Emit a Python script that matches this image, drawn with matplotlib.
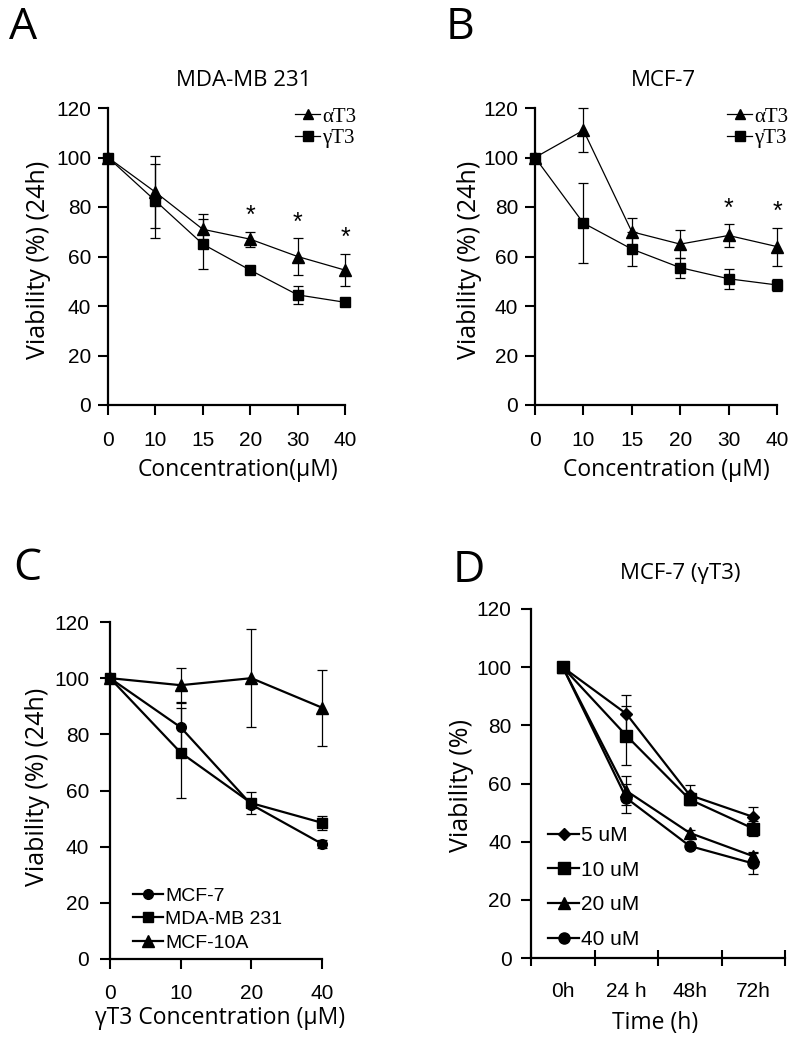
import matplotlib
matplotlib.use("Agg")
import matplotlib.pyplot as plt

W, H = 796, 1043

# Panel A: MDA-MB 231, 24 h
conc_ab = ['0', '10', '15', '20', '30', '40']
a_alpha = [100, 86, 71, 67, 60, 54.5]
a_alpha_err = [0, 14.6, 6, 3, 7.3, 6.6]
a_gamma = [100, 82.5, 65, 54.5, 44.5, 41.5]
a_gamma_err = [0, 15, 10, 1, 3.5, 1]
a_star = [3, 4, 5]

# Panel B: MCF-7, 24 h
b_alpha = [100, 111, 70, 65, 68.5, 64]
b_alpha_err = [0, 8.8, 5.5, 5.8, 4.5, 7.7]
b_gamma = [100, 73.5, 63, 55.5, 51, 48.5]
b_gamma_err = [0, 16, 6.8, 4, 4, 2.5]
b_star = [4, 5]

# Panel C: gamma-T3 on three cell lines
conc_c = ['0', '10', '20', '40']
c_mcf7 = [100, 82.5, 55, 41]
c_mcf7_err = [0, 8.5, 1, 1.5]
c_mda = [100, 73.5, 55.5, 48.5]
c_mda_err = [0, 16, 4, 2.5]
c_10a = [100, 97.5, 100, 89.5]
c_10a_err = [0, 6, 17.5, 13.5]

# Panel D: MCF-7 time course
time_d = ['0h', '24 h', '48h', '72h']
d_5 = [100, 84, 56, 48.5]
d_5_err = [0, 6.5, 3.5, 3.5]
d_10 = [100, 76.5, 54.5, 44.5]
d_10_err = [0, 10, 2, 2.5]
d_20 = [100, 57.5, 43, 35]
d_20_err = [0, 5, 1, 1.5]
d_40 = [100, 55, 38.5, 32.5]
d_40_err = [0, 5, 1, 3.5]

SANS = ['Liberation Sans', 'DejaVu Sans']
LABEL = ['Open Sans', 'DejaVu Sans']
SERIF = ['Liberation Serif', 'DejaVu Serif']
TICK = 15

fig = plt.figure(figsize=(W / 100, H / 100), dpi=100)


def box(l, r, b, t):
    # pixel box -> figure fraction
    return [l / W, 1 - b / H, (r - l) / W, (b - t) / H]


def ftext(x, y, s, **kw):
    kw.setdefault('family', LABEL)
    fig.text(x / W, 1 - y / H, s, ha='center', va='center', **kw)


def style_axes(ax, lw=1.6):
    for s in ['top', 'right']:
        ax.spines[s].set_visible(False)
    for s in ['left', 'bottom']:
        ax.spines[s].set_linewidth(lw)
    ax.set_ylim(0, 120)
    ax.set_yticks(range(0, 121, 20))
    for lab in ax.get_xticklabels() + ax.get_yticklabels():
        lab.set_family(SANS)


def series(ax, y, err, marker, ms, lw):
    x = list(range(len(y)))
    c = ax.errorbar(x, y, yerr=err, fmt='-', marker=marker, ms=ms, color='black',
                    lw=lw, elinewidth=0.9, capsize=3.5, capthick=0.9, clip_on=False,
                    zorder=3)
    return c[0]


# ---- A and B ----
for l, r, alpha, aerr, gamma, gerr, stars in [
        (108, 345, a_alpha, a_alpha_err, a_gamma, a_gamma_err, a_star),
        (535, 777, b_alpha, b_alpha_err, b_gamma, b_gamma_err, b_star)]:
    ax = fig.add_axes(box(l, r, 405, 108))
    h1 = series(ax, alpha, aerr, '^', 8.5, 0.9)
    h2 = series(ax, gamma, gerr, 's', 7.5, 0.9)
    ax.set_xlim(0, len(conc_ab) - 1)
    ax.set_xticks(range(len(conc_ab)))
    ax.set_xticklabels(conc_ab)
    ax.tick_params(axis='both', direction='out', length=7, width=1.5, labelsize=TICK)
    ax.tick_params(axis='x', pad=12)
    ax.tick_params(axis='y', pad=5)
    style_axes(ax)
    for i in stars:
        ax.text(i, alpha[i] + aerr[i] + 1.5, '*', ha='center', va='bottom',
                fontsize=18, family=SANS)
    ax.legend([h1, h2], ['\u03b1T3', '\u03b3T3'], loc='upper left',
              bbox_to_anchor=((r - 50) / W, 1 - 107 / H), bbox_transform=fig.transFigure,
              frameon=False, prop={'family': SERIF, 'size': 15}, numpoints=1,
              handlelength=1.2, handletextpad=0.1, labelspacing=0.1,
              borderpad=0, borderaxespad=0, markerscale=0.9)

ftext(23, 28, 'A', fontsize=32)
ftext(460, 28, 'B', fontsize=32)
ftext(244, 80, 'MDA-MB 231', fontsize=16)
ftext(663, 80, 'MCF-7', fontsize=16)
ftext(39, 260, 'Viability (%) (24h)', fontsize=18, rotation=90)
ftext(470, 260, 'Viability (%) (24h)', fontsize=18, rotation=90)
ftext(238, 470, 'Concentration(\u03bcM)', fontsize=16.5)
ftext(666, 470, 'Concentration (\u03bcM)', fontsize=16.5)

# ---- C ----
ax = fig.add_axes(box(110, 322, 959, 622))
h1 = series(ax, c_mcf7, c_mcf7_err, 'o', 7, 1.6)
h2 = series(ax, c_mda, c_mda_err, 's', 7.5, 1.6)
h3 = series(ax, c_10a, c_10a_err, '^', 8, 1.6)
ax.set_xlim(0, len(conc_c) - 1)
ax.set_xticks(range(len(conc_c)))
ax.set_xticklabels(conc_c)
ax.tick_params(axis='both', direction='out', length=7, width=1.5, labelsize=TICK)
ax.tick_params(axis='x', pad=11)
ax.tick_params(axis='y', pad=8)
style_axes(ax)
ax.legend([h1, h2, h3], ['MCF-7', 'MDA-MB 231', 'MCF-10A'], loc='upper left',
          bbox_to_anchor=(133 / W, 1 - 887 / H), bbox_transform=fig.transFigure,
          frameon=False, prop={'family': SANS, 'size': 14}, numpoints=1,
          handlelength=1.55, handletextpad=0.1, labelspacing=0.3,
          borderpad=0, borderaxespad=0)
ftext(27, 569, 'C', fontsize=32)
ftext(38, 787, 'Viability (%) (24h)', fontsize=18, rotation=90)
ftext(220, 1018, '\u03b3T3 Concentration (\u03bcM)', fontsize=16.5)

# ---- D ----
ax = fig.add_axes(box(531, 785, 958, 609))
h1 = series(ax, d_5, d_5_err, 'D', 6.5, 1.6)
h2 = series(ax, d_10, d_10_err, 's', 9, 1.6)
h3 = series(ax, d_20, d_20_err, '^', 8.5, 1.6)
h4 = series(ax, d_40, d_40_err, 'o', 8, 1.6)
n = len(time_d)
ax.set_xlim(-0.5, n - 0.5)
ax.set_xticks([i - 0.5 for i in range(n + 1)])
ax.set_xticklabels([])
ax.set_xticks(range(n), minor=True)
ax.set_xticklabels(time_d, minor=True)
ax.tick_params(axis='x', which='major', direction='inout', length=11, width=1.5)
ax.tick_params(axis='x', which='minor', length=0, pad=17, labelsize=TICK)
ax.tick_params(axis='y', direction='out', length=7, width=1.5, labelsize=TICK, pad=7)
style_axes(ax)
for lab in ax.get_xticklabels(minor=True):
    lab.set_family(SANS)
ax.legend([h1, h2, h3, h4], ['5 uM', '10 uM', '20 uM', '40 uM'], loc='upper left',
          bbox_to_anchor=(548 / W, 1 - 826 / H), bbox_transform=fig.transFigure,
          frameon=False, prop={'family': SANS, 'size': 15}, numpoints=1,
          handlelength=1.5, handletextpad=0.1, labelspacing=0.75,
          borderpad=0, borderaxespad=0)
ftext(469, 571, 'D', fontsize=32)
ftext(680, 573, 'MCF-7 (\u03b3T3)', fontsize=16)
ftext(462, 785, 'Viability (%)', fontsize=18, rotation=90)
ftext(655, 1023, 'Time (h)', fontsize=16.5)

fig.savefig('out.png', dpi=100)
